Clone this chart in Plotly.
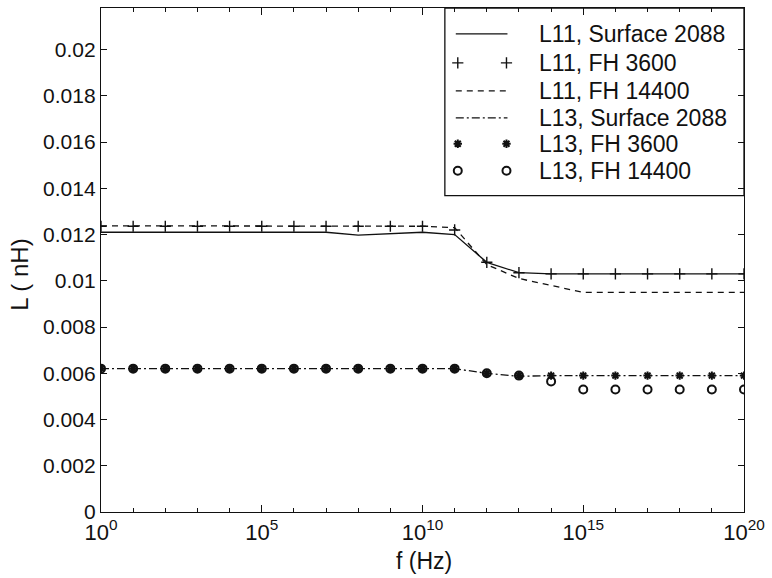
import plotly.graph_objects as go

# Frequency grid (Hz), one point per decade
freq = [1e0, 1e1, 1e2, 1e3, 1e4, 1e5, 1e6, 1e7, 1e8, 1e9, 1e10,
        1e11, 1e12, 1e13, 1e14, 1e15, 1e16, 1e17, 1e18, 1e19, 1e20]

# Inductance (nH)
L11_surface_2088 = [0.0121, 0.0121, 0.0121, 0.0121, 0.0121, 0.0121, 0.0121, 0.0121,
                    0.01198, 0.01203, 0.0121, 0.0120, 0.0108, 0.01035, 0.0103,
                    0.0103, 0.0103, 0.0103, 0.0103, 0.0103, 0.0103]
L11_fh_3600 = [0.01236, 0.01236, 0.01236, 0.01236, 0.01236, 0.01236, 0.01236, 0.01236,
               0.01236, 0.01236, 0.01236, 0.0122, 0.0108, 0.01035, 0.0103,
               0.0103, 0.0103, 0.0103, 0.0103, 0.0103, 0.0103]
L11_fh_14400 = [0.01238, 0.01238, 0.01238, 0.01238, 0.01238, 0.01238, 0.01238, 0.01238,
                0.01238, 0.01238, 0.01236, 0.0123, 0.0107, 0.0101, 0.0098,
                0.0095, 0.0095, 0.0095, 0.0095, 0.0095, 0.0095]
L13_surface_2088 = [0.0062, 0.0062, 0.0062, 0.0062, 0.0062, 0.0062, 0.0062, 0.0062,
                    0.0062, 0.0062, 0.0062, 0.0062, 0.0060, 0.00587, 0.0059,
                    0.0059, 0.0059, 0.0059, 0.0059, 0.0059, 0.0059]
L13_fh_3600 = [0.0062, 0.0062, 0.0062, 0.0062, 0.0062, 0.0062, 0.0062, 0.0062,
               0.0062, 0.0062, 0.0062, 0.0062, 0.0060, 0.0059, 0.0059,
               0.0059, 0.0059, 0.0059, 0.0059, 0.0059, 0.0059]
L13_fh_14400 = [0.0062, 0.0062, 0.0062, 0.0062, 0.0062, 0.0062, 0.0062, 0.0062,
                0.0062, 0.0062, 0.0062, 0.0062, 0.0060, 0.0059, 0.00565,
                0.0053, 0.0053, 0.0053, 0.0053, 0.0053, 0.0053]

x_tick_vals = [1e0, 1e5, 1e10, 1e15, 1e20]
x_tick_text = ["10<sup>0</sup>", "10<sup>5</sup>", "10<sup>10</sup>",
               "10<sup>15</sup>", "10<sup>20</sup>"]
x_minor_vals = [1e1, 1e2, 1e3, 1e4, 1e6, 1e7, 1e8, 1e9, 1e11, 1e12, 1e13, 1e14,
                1e16, 1e17, 1e18, 1e19]
y_tick_vals = [0, 0.002, 0.004, 0.006, 0.008, 0.01, 0.012, 0.014, 0.016, 0.018, 0.02]
y_tick_text = ["0", "0.002", "0.004", "0.006", "0.008", "0.01", "0.012",
               "0.014", "0.016", "0.018", "0.02"]

legend_labels = ["L11, Surface 2088", "L11, FH 3600", "L11, FH 14400",
                 "L13, Surface 2088", "L13, FH 3600", "L13, FH 14400"]

FONT = "Liberation Sans, Arial, Helvetica, sans-serif"
BLACK = "#111111"

# Drawing styles per series: (line dash or None, marker symbol or None)
styles = [
    ("solid", None),
    (None, "cross-thin-open"),
    ("6px,5px", None),
    ("8px,3px,2px,3px", None),
    (None, "asterisk-open"),
    (None, "circle-open"),
]
series = [L11_surface_2088, L11_fh_3600, L11_fh_14400,
          L13_surface_2088, L13_fh_3600, L13_fh_14400]


def marker_spec(sym):
    if sym == "cross-thin-open":
        return dict(symbol=sym, size=8, color=BLACK, line=dict(color=BLACK, width=1.4))
    if sym == "asterisk-open":
        return dict(symbol=sym, size=7, color=BLACK, line=dict(color=BLACK, width=2.0))
    return dict(symbol=sym, size=8, color=BLACK, line=dict(color=BLACK, width=2.0))


fig = go.Figure()

for vals, (dash, sym), name in zip(series, styles, legend_labels):
    if dash is not None:
        fig.add_trace(go.Scatter(x=freq, y=vals, mode="lines", name=name,
                                 line=dict(color=BLACK, width=1.3, dash=dash),
                                 showlegend=False))
    else:
        fig.add_trace(go.Scatter(x=freq, y=vals, mode="markers", name=name,
                                 marker=marker_spec(sym), showlegend=False))

# Hand-drawn legend box in the upper right corner (overlay axes span the plot area)
plot_left, plot_right, plot_top, plot_bottom = 101, 748, 7, 512
pw, ph = plot_right - plot_left, plot_bottom - plot_top
row_px = [33, 62, 90, 117, 143, 170]
row_y = [(plot_bottom - p) / ph for p in row_px]
sample_x0, sample_x1 = (458 - plot_left) / pw, (510 - plot_left) / pw
mark_x0, mark_x1 = (460 - plot_left) / pw, (509 - plot_left) / pw
text_x = (540 - plot_left) / pw

for (dash, sym), ry in zip(styles, row_y):
    if dash is not None:
        fig.add_trace(go.Scatter(x=[sample_x0, sample_x1], y=[ry, ry], mode="lines",
                                 xaxis="x2", yaxis="y2", showlegend=False, hoverinfo="skip",
                                 line=dict(color=BLACK, width=1.3, dash=dash)))
    else:
        fig.add_trace(go.Scatter(x=[mark_x0, mark_x1], y=[ry, ry], mode="markers",
                                 xaxis="x2", yaxis="y2", showlegend=False, hoverinfo="skip",
                                 marker=marker_spec(sym)))

legend_x0 = (447 - plot_left) / pw
legend_y0 = (plot_bottom - 195) / ph
fig.add_shape(type="rect", xref="paper", yref="paper", x0=legend_x0, x1=1.0,
              y0=legend_y0, y1=1.0, line=dict(color=BLACK, width=1.3),
              fillcolor="white", layer="below")

annotations = []
for lab, ry in zip(legend_labels, row_y):
    annotations.append(dict(x=text_x, y=ry, xref="paper", yref="paper", text=lab,
                            showarrow=False, xanchor="left", yanchor="middle",
                            font=dict(family=FONT, size=23, color=BLACK)))
annotations.append(dict(x=0.503, y=-0.067, xref="paper", yref="paper", text="f (Hz)",
                        showarrow=False, xanchor="center", yanchor="top",
                        font=dict(family=FONT, size=23, color=BLACK)))
annotations.append(dict(x=-0.128, y=0.47, xref="paper", yref="paper", text="L ( nH)",
                        showarrow=False, textangle=-90, xanchor="center", yanchor="middle",
                        font=dict(family=FONT, size=24, color=BLACK)))

fig.update_layout(
    width=772, height=578,
    margin=dict(l=plot_left, r=772 - plot_right, t=plot_top, b=578 - plot_bottom),
    paper_bgcolor="white", plot_bgcolor="white",
    font=dict(family=FONT, size=20, color=BLACK),
    annotations=annotations,
    showlegend=False,
    xaxis=dict(type="log", range=[0, 20], tickvals=x_tick_vals, ticktext=x_tick_text,
               ticks="inside", ticklen=7, tickwidth=1, tickcolor=BLACK,
               showline=True, linecolor=BLACK, linewidth=1.4, mirror="allticks",
               showgrid=False, zeroline=False, ticklabelstandoff=0,
               tickfont=dict(family=FONT, size=22, color=BLACK),
               minor=dict(tickmode="array", tickvals=x_minor_vals, ticks="inside",
                          ticklen=4, tickwidth=1, tickcolor=BLACK, showgrid=False)),
    yaxis=dict(range=[0, 0.0218], tickvals=y_tick_vals, ticktext=y_tick_text,
               ticks="inside", ticklen=6, tickwidth=1, tickcolor=BLACK,
               showline=True, linecolor=BLACK, linewidth=1.4, mirror="allticks",
               showgrid=False, zeroline=False,
               tickfont=dict(family=FONT, size=21, color=BLACK)),
    xaxis2=dict(range=[0, 1], overlaying="x", visible=False, fixedrange=True),
    yaxis2=dict(range=[0, 1], overlaying="y", visible=False, fixedrange=True),
)

fig.write_html("out.html")
